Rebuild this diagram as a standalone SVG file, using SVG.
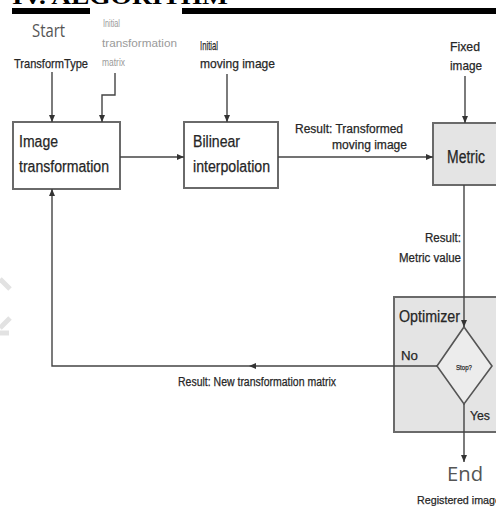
<svg xmlns="http://www.w3.org/2000/svg" width="496" height="506" viewBox="0 0 496 506">
<style>
.t{font-family:"Liberation Sans",Arial,sans-serif;fill:#262626;stroke:#262626;stroke-width:0.25;}
.g{font-family:"Liberation Sans",Arial,sans-serif;fill:#9a9a9a;}
.s{font-family:"Open Sans","DejaVu Sans",sans-serif;fill:#555;}
.box{fill:#fff;stroke:#6a6a6a;stroke-width:2;}
.gbox{fill:#e4e4e4;stroke:#6a6a6a;stroke-width:2;}
.ln{fill:none;stroke:#444;stroke-width:1.4;}
</style>
<defs>
<marker id="ah" markerUnits="userSpaceOnUse" markerWidth="8" markerHeight="8" refX="7" refY="4" orient="auto">
<path d="M0,1 L7,4 L0,7 Z" fill="#333"/>
</marker>
</defs>
<rect width="496" height="506" fill="#fff"/>
<g id="header">
<text x="12" y="4" font-family="Liberation Serif,serif" font-weight="bold" font-size="24" textLength="216" lengthAdjust="spacingAndGlyphs" fill="#000">IV. ALGORITHM</text>
<rect x="12" y="8" width="78" height="6" fill="#000"/>
<rect x="182" y="8" width="314" height="6" fill="#000"/>
</g>
<g id="watermark" stroke="#e2e2e2" stroke-width="5" fill="none">
<path d="M0 279 L10 289"/>
<path d="M10 318 L0 328"/>
<path d="M0 333 L9 333"/>
</g>
<g id="start">
<text class="s" x="32" y="37" font-size="18" textLength="33" lengthAdjust="spacingAndGlyphs">Start</text>
</g>
<g id="transformtype">
<text class="t" x="14" y="68" font-size="13.5" textLength="74" lengthAdjust="spacingAndGlyphs">TransformType</text>
</g>
<g id="initial-matrix">
<text class="g" x="103" y="27" font-size="11.5" textLength="17" lengthAdjust="spacingAndGlyphs">Initial</text>
<text class="g" x="102" y="47" font-size="11.5" textLength="75" lengthAdjust="spacingAndGlyphs">transformation</text>
<text class="g" x="102" y="66" font-size="11.5" textLength="23" lengthAdjust="spacingAndGlyphs">matrix</text>
</g>
<g id="initial-moving">
<text class="t" x="200" y="50" font-size="13.5" textLength="18" lengthAdjust="spacingAndGlyphs">Initial</text>
<text class="t" x="200" y="68" font-size="13.5" textLength="75" lengthAdjust="spacingAndGlyphs">moving image</text>
</g>
<g id="fixed">
<text class="t" x="450" y="51" font-size="13.5" textLength="30" lengthAdjust="spacingAndGlyphs">Fixed</text>
<text class="t" x="450" y="70" font-size="13.5" textLength="32" lengthAdjust="spacingAndGlyphs">image</text>
</g>
<g id="image-transformation">
<rect class="box" x="13" y="122" width="107" height="67"/>
<text class="t" x="19" y="147" font-size="16" textLength="39" lengthAdjust="spacingAndGlyphs">Image</text>
<text class="t" x="19" y="172" font-size="16" textLength="90" lengthAdjust="spacingAndGlyphs">transformation</text>
</g>
<g id="bilinear">
<rect class="box" x="184" y="122" width="94" height="66"/>
<text class="t" x="193" y="147" font-size="16" textLength="47" lengthAdjust="spacingAndGlyphs">Bilinear</text>
<text class="t" x="193" y="172" font-size="16" textLength="77" lengthAdjust="spacingAndGlyphs">interpolation</text>
</g>
<g id="metric">
<rect class="gbox" x="433" y="123" width="70" height="62"/>
<text class="t" x="447" y="163" font-size="18" textLength="38" lengthAdjust="spacingAndGlyphs">Metric</text>
</g>
<g id="optimizer">
<rect class="gbox" x="394" y="297" width="110" height="135"/>
<text class="t" x="399" y="322" font-size="16" textLength="61" lengthAdjust="spacingAndGlyphs">Optimizer</text>
<polygon points="464,327 492,366 464,404 437,366" fill="#ececec" stroke="#555" stroke-width="1.6"/>
<text class="t" x="464" y="370" font-size="8" text-anchor="middle" textLength="16" lengthAdjust="spacingAndGlyphs">Stop?</text>
</g>
<g id="end">
<text class="s" x="447" y="481" font-size="20" textLength="36" lengthAdjust="spacingAndGlyphs">End</text>
<text class="t" x="417" y="504" font-size="11.5" textLength="84" lengthAdjust="spacingAndGlyphs">Registered image</text>
</g>
<g id="connectors">
<path class="ln" d="M52 72 V122" marker-end="url(#ah)"/>
<path class="ln" d="M115 73 V95 H102 V122" marker-end="url(#ah)"/>
<path class="ln" d="M227 74 V122" marker-end="url(#ah)"/>
<path class="ln" d="M465 76 V123" marker-end="url(#ah)"/>
<path class="ln" d="M120 157 H184" marker-end="url(#ah)"/>
<path class="ln" d="M278 157 H433" marker-end="url(#ah)"/>
<path class="ln" d="M464 185 V327" marker-end="url(#ah)"/>
<path class="ln" d="M437 366 H52 V189" marker-end="url(#ah)"/>
<path d="M249 366 L256 363 L256 369 Z" fill="#333"/>
<path class="ln" d="M464 404 V462" marker-end="url(#ah)"/>
<text class="t" x="295" y="133" font-size="12.5" textLength="108" lengthAdjust="spacingAndGlyphs">Result: Transformed</text>
<text class="t" x="407" y="149" font-size="12.5" text-anchor="end" textLength="75" lengthAdjust="spacingAndGlyphs">moving image</text>
<text class="t" x="461" y="242" font-size="12.5" text-anchor="end" textLength="36" lengthAdjust="spacingAndGlyphs">Result:</text>
<text class="t" x="461" y="262" font-size="12.5" text-anchor="end" textLength="62" lengthAdjust="spacingAndGlyphs">Metric value</text>
<text class="t" x="401" y="360" font-size="13.5" textLength="17" lengthAdjust="spacingAndGlyphs">No</text>
<text class="t" x="470" y="420" font-size="13.5" textLength="20" lengthAdjust="spacingAndGlyphs">Yes</text>
<text class="t" x="178" y="386" font-size="12.5" textLength="158" lengthAdjust="spacingAndGlyphs">Result: New transformation matrix</text>
</g>
</svg>
